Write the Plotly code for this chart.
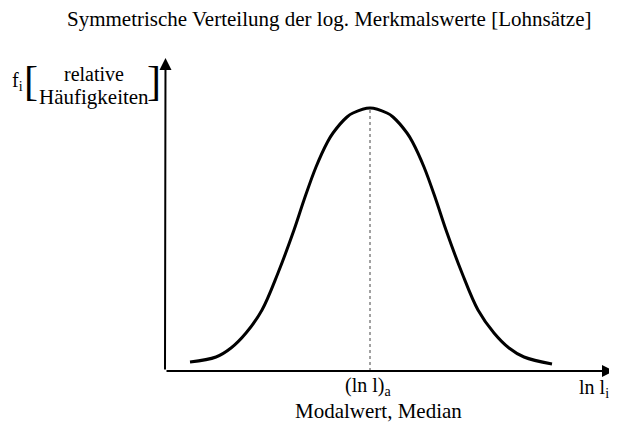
import plotly.graph_objects as go

# Curve (x: position along ln l axis, y: relative frequency), arbitrary units
curve_x = [25, 51, 66, 81, 97, 113, 129, 139, 151, 162.5, 168, 182, 188, 205,
           222, 228, 242, 247.5, 259, 271, 281, 297, 313, 329, 344, 359, 387]
curve_y = [9, 14, 23, 38, 61, 98, 141, 171, 204, 229, 238, 254, 258, 263,
           258, 254, 238, 229, 204, 171, 141, 98, 61, 38, 23, 14, 7]
mode_x = 205
peak_y = 263

title_text = "Symmetrische Verteilung der log. Merkmalswerte [Lohnsätze]"
y_label_top = "relative"
y_label_bottom = "Häufigkeiten"
x_end_label = "ln l<sub>i</sub>"
mode_label = "(ln l)<sub>a</sub>"
mode_caption = "Modalwert, Median"

OFF = 8  # page body margin of the browser
W, H = 617 - OFF, 425 - OFF
X0, Y0 = 165, 371  # pixel position of origin (in window pixels)

FONT = "Liberation Serif, Times New Roman, serif"

fig = go.Figure()
fig.add_trace(go.Scatter(x=[mode_x, mode_x], y=[0, peak_y], mode="lines",
                         line=dict(color="#444", width=1, dash="dot"), hoverinfo="skip"))
fig.add_trace(go.Scatter(x=curve_x, y=curve_y, mode="lines", line_shape="spline",
                         line=dict(color="black", width=3), hoverinfo="skip"))

def px(x):  # window pixel -> data x
    return x - X0

def py(y):  # window pixel -> data y
    return Y0 - y

ann = []
# axes as arrows
ann.append(dict(x=px(614), y=0, ax=0, ay=0, xref="x", yref="y", axref="x", ayref="y",
                showarrow=True, arrowhead=2, arrowsize=1.2, arrowwidth=2, arrowcolor="black", text=""))
ann.append(dict(x=0.5, y=py(58), ax=0, ay=0, xref="x", yref="y", axref="x", ayref="y",
                showarrow=True, arrowhead=2, arrowsize=1.2, arrowwidth=2, arrowcolor="black", text=""))

def txt(t, x, y, size, xanchor="center"):
    ann.append(dict(text=t, x=px(x), y=py(y), xref="x", yref="y", showarrow=False,
                    xanchor=xanchor, yanchor="middle", font=dict(family=FONT, size=size, color="black")))

txt(title_text, 329, 19, 21)
txt("f<sub>i</sub>", 17, 81, 20)
txt("[", 31, 81, 42)
txt(y_label_top, 94, 74, 20)
txt(y_label_bottom, 94, 97, 21)
txt("]", 154, 81, 42)
txt(mode_label, 368, 386, 20)
txt(mode_caption, 378, 411, 21)
txt(x_end_label, 611, 388, 20, xanchor="right")

fig.update_layout(
    width=W, height=H, margin=dict(l=0, r=0, t=0, b=0),
    paper_bgcolor="white", plot_bgcolor="white", showlegend=False,
    xaxis=dict(range=[-(X0 - OFF), W - (X0 - OFF)], visible=False, fixedrange=True),
    yaxis=dict(range=[(Y0 - OFF) - H, Y0 - OFF], visible=False, fixedrange=True),
    annotations=ann,
)
fig.write_html("out.html")
